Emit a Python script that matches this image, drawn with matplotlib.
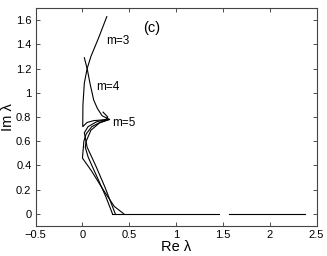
import numpy as np
import matplotlib
matplotlib.use("Agg")
import matplotlib.pyplot as plt

plt.rcParams['font.family'] = ['Liberation Sans', 'DejaVu Sans']

# eigenvalue branches (Re, Im)
m3_re = [0.26, 0.17, 0.09, 0.05, 0.02, 0.005, 0.003, 0.05, 0.12, 0.20, 0.29,
         0.20, 0.10, 0.04, 0.015, 0.0, 0.10, 0.22, 0.34, 0.44]
m3_im = [1.63, 1.45, 1.30, 1.20, 1.08, 0.90, 0.72, 0.755, 0.77, 0.775, 0.78,
         0.76, 0.72, 0.66, 0.60, 0.46, 0.35, 0.20, 0.06, 0.0]
m4_re = [0.02, 0.05, 0.08, 0.12, 0.16, 0.21, 0.29, 0.18, 0.09, 0.04, 0.03,
         0.06, 0.10, 0.17, 0.25, 0.32]
m4_im = [1.29, 1.20, 1.08, 0.94, 0.87, 0.81, 0.78, 0.75, 0.69, 0.60, 0.55,
         0.47, 0.40, 0.28, 0.14, 0.0]
m5_re = [0.22, 0.27, 0.25, 0.15, 0.06, 0.02, 0.05, 0.14, 0.24, 0.30, 0.35]
m5_im = [0.84, 0.80, 0.78, 0.76, 0.72, 0.67, 0.55, 0.40, 0.22, 0.10, 0.0]

# real-axis parts
real1 = [0.32, 1.46]
real2 = [1.57, 2.38]

fig = plt.figure(figsize=(3.27, 2.56), dpi=100)
ax = fig.add_axes([0.109, 0.118, 0.859, 0.85])

for xs, ys in [(m3_re, m3_im), (m4_re, m4_im), (m5_re, m5_im)]:
    ax.plot(xs, ys, color='black', lw=0.8)
ax.plot(real1, [0, 0], color='black', lw=0.8)
ax.plot(real2, [0, 0], color='black', lw=0.8)

ax.text(0.25, 1.43, 'm=3', fontsize=8.5, va='center')
ax.text(0.15, 1.05, 'm=4', fontsize=8.5, va='center')
ax.text(0.32, 0.75, 'm=5', fontsize=8.5, va='center')
ax.text(0.65, 1.54, '(c)', fontsize=10.5, va='center')

ax.set_xlim(-0.5, 2.5)
ax.set_ylim(-0.1, 1.7)
ax.set_xticks([-0.5, 0, 0.5, 1, 1.5, 2, 2.5])
ax.set_xticklabels(['\u22120.5', '0', '0.5', '1', '1.5', '2', '2.5'])
ax.set_yticks([0, 0.2, 0.4, 0.6, 0.8, 1, 1.2, 1.4, 1.6])
ax.set_yticklabels(['0', '0.2', '0.4', '0.6', '0.8', '1', '1.2', '1.4', '1.6'])
ax.tick_params(direction='in', top=True, right=True, length=3, width=0.6,
               labelsize=8, pad=3, colors='#333333', labelcolor='black')
for s in ax.spines.values():
    s.set_linewidth(0.8)
    s.set_color('#444444')

ax.set_xlabel('Re \u03bb', fontsize=10.5, labelpad=0)
ax.set_ylabel('Im \u03bb', fontsize=10.5, labelpad=1)

fig.savefig('out.png', dpi=100)
